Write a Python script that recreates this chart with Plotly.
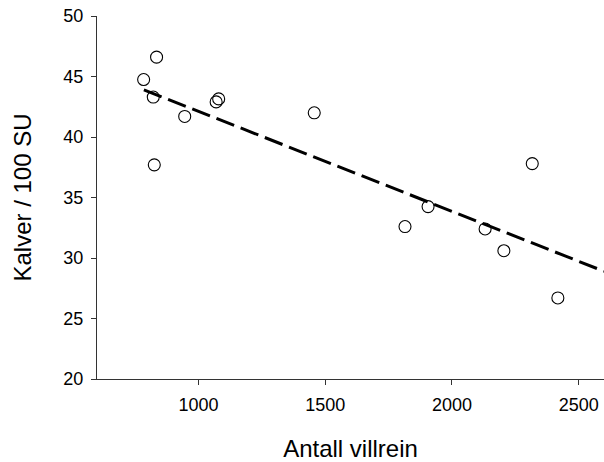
import plotly.graph_objects as go

# Data
antall_villrein = [784, 835, 822, 826, 946, 1070, 1080, 1457, 1815, 1906, 2131, 2205, 2317, 2418]
kalver_per_100su = [44.75, 46.6, 43.3, 37.7, 41.7, 42.9, 43.15, 42.0, 32.6, 34.25, 32.4, 30.6, 37.8, 26.7]

# Regression line end points
trend_x = [785, 2600]
trend_y = [43.9, 28.9]

x_ticks = [1000, 1500, 2000, 2500]
y_ticks = [20, 25, 30, 35, 40, 45, 50]

font_family = "Liberation Sans, Arial, sans-serif"

fig = go.Figure()
fig.add_trace(go.Scatter(
    x=trend_x, y=trend_y, mode="lines",
    line=dict(color="black", width=3, dash="19px,7px"),
    showlegend=False, hoverinfo="skip",
))
fig.add_trace(go.Scatter(
    x=antall_villrein, y=kalver_per_100su, mode="markers",
    marker=dict(symbol="circle-open", size=12, color="black", line=dict(width=1.1, color="black")),
    showlegend=False,
))

axis_color = "#333333"
fig.update_layout(
    width=604, height=462,
    margin=dict(l=97, r=0, t=16, b=83),
    paper_bgcolor="white", plot_bgcolor="white",
    font=dict(family=font_family, color="black"),
    xaxis=dict(
        range=[600, 2600], tickvals=x_ticks, ticktext=[str(v) for v in x_ticks],
        automargin=False,
        showgrid=False, zeroline=False, showline=True, linecolor=axis_color, linewidth=1,
        ticks="outside", ticklen=5, tickcolor=axis_color, tickwidth=1,
        tickfont=dict(size=18, family=font_family, color="black"),
        ticklabelstandoff=4,
        title=dict(text="Antall villrein", font=dict(size=24, family=font_family, color="black"), standoff=29),
    ),
    yaxis=dict(
        range=[20, 50], tickvals=y_ticks, ticktext=[str(v) for v in y_ticks],
        automargin=False,
        showgrid=False, zeroline=False, showline=True, linecolor=axis_color, linewidth=1,
        ticks="outside", ticklen=5, tickcolor=axis_color, tickwidth=1,
        tickfont=dict(size=18, family=font_family, color="black"),
        ticklabelstandoff=4,
        title=dict(text="Kalver / 100 SU", font=dict(size=24, family=font_family, color="black"), standoff=24),
    ),
)

fig.write_html("out.html", config={"displayModeBar": False})

# remove default page margins so the figure sits at the window's top-left corner
with open("out.html", "r", encoding="utf-8") as f:
    html = f.read()
html = html.replace("<head>", "<head><style>html,body{margin:0;padding:0;overflow:hidden}</style>", 1)
with open("out.html", "w", encoding="utf-8") as f:
    f.write(html)
